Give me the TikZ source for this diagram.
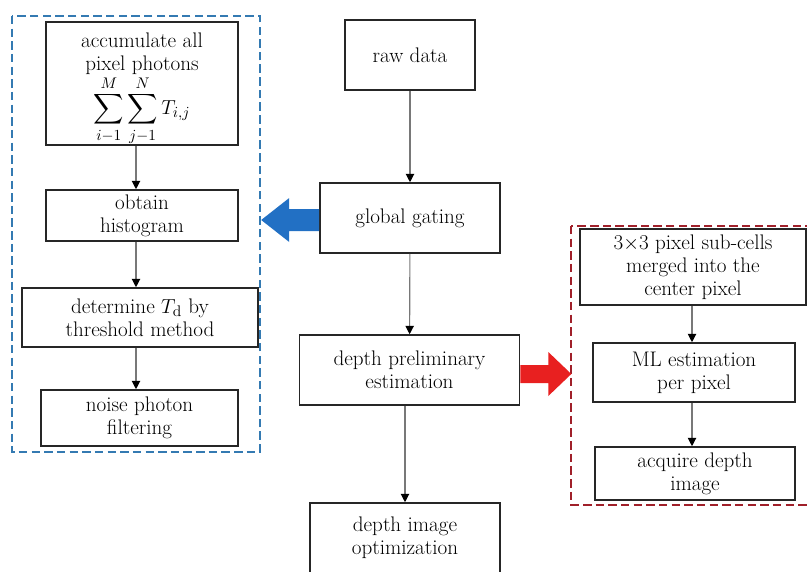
\documentclass[tikz,border=0pt]{standalone}
\usepackage{amsmath, amssymb}
\usetikzlibrary{arrows.meta}
\definecolor{frameblue}{RGB}{52,122,178}
\definecolor{framered}{RGB}{160,32,42}
\definecolor{fatblue}{RGB}{34,112,196}
\definecolor{fatred}{RGB}{232,32,32}
\definecolor{linegray}{RGB}{120,120,120}
\tikzset{
  stepbox/.style={draw=black!85, line width=1.1pt, fill=white, align=center,
    inner sep=0pt, font=\fontsize{15}{16.5}\selectfont},
  flow/.style={draw=linegray, line width=0.8pt,
    -{Triangle[length=6pt, width=6pt, color=black]}},
  groupframe/.style={dashed, line width=1.6pt, dash pattern=on 6pt off 3pt}
}

\begin{document}
\begin{tikzpicture}[x=0.025cm, y=-0.025cm]
      \clip (0,0) rectangle (807,571);
      \fill[white] (0,0) rectangle (807,571);

      % Dashed group frames
      \draw[groupframe, frameblue] (12,16) rectangle (260,452);
      \draw[groupframe, framered] (571,226) rectangle (812,505);

      % Main column
      \node[stepbox, minimum width=3.25cm, minimum height=1.75cm] (raw) at (410,55) {raw data};
      \node[stepbox, minimum width=4.5cm, minimum height=1.75cm] (gate) at (410,218) {global gating};
      \node[stepbox, minimum width=5.5cm, minimum height=1.75cm] (est) at (409.5,370) {depth preliminary\\estimation};
      \node[stepbox, minimum width=4.75cm, minimum height=1.75cm] (opt) at (405,538) {depth image\\optimization};

      % Left column
      \node[stepbox, minimum width=4.8cm, minimum height=3.075cm] (acc) at (142,83.5)
        {\rule{0pt}{18pt}accumulate all\\pixel photons\\[0pt]$\displaystyle\sum_{i-1}^{M}\sum_{j-1}^{N}T_{i,j}$};
      \node[stepbox, minimum width=4.8cm, minimum height=1.275cm] (hist) at (142,215.5) {obtain\\histogram};
      \node[stepbox, minimum width=5.9cm, minimum height=1.475cm] (thr) at (140,317.5) {determine $T_{\mathrm{d}}$ by\\threshold method};
      \node[stepbox, minimum width=4.925cm, minimum height=1.4cm] (noise) at (139.5,418) {noise photon\\filtering};

      % Right column
      \node[stepbox, minimum width=5.65cm, minimum height=1.9cm] (cells) at (693,267) {3$\times$3 pixel sub-cells\\merged into the\\center pixel};
      \node[stepbox, minimum width=5.05cm, minimum height=1.475cm] (ml) at (694,372.5) {ML estimation\\per pixel};
      \node[stepbox, minimum width=5cm, minimum height=1.325cm] (acq) at (695,473.5) {acquire depth\\image};

      % Connectors
      \draw[flow] (raw) -- (gate);
      \draw[flow] (gate) -- (est);
      \draw[flow] (est.south -| opt.north) -- (opt);
      \coordinate (lx) at (136,0);
      \draw[flow] (acc.south -| lx) -- (hist.north -| lx);
      \draw[flow] (hist.south -| lx) -- (thr.north -| lx);
      \draw[flow] (thr.south -| lx) -- (noise.north -| lx);
      \coordinate (rx) at (692,0);
      \draw[flow] (cells.south -| rx) -- (ml.north -| rx);
      \draw[flow] (ml.south -| rx) -- (acq.north -| rx);

      % Fat arrows into the frames
      \fill[fatblue] (gate.west) ++(0,-9) -- ++(-30,0) -- ++(0,-11) -- ++(-28,22)
        -- ++(28,22) -- ++(0,-11) -- ++(30,0) -- cycle;
      \fill[fatred] (est.east) ++(0,-5) -- ++(28,0) -- ++(0,-13) -- ++(23,22)
        -- ++(-23,22) -- ++(0,-13) -- ++(-28,0) -- cycle;
    \end{tikzpicture}
\end{document}
